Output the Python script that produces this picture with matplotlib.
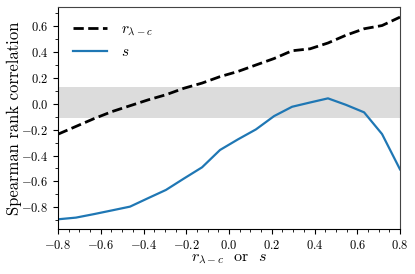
import matplotlib
matplotlib.use("Agg")
import matplotlib.pyplot as plt
from matplotlib.ticker import MultipleLocator

plt.rcParams['font.family'] = 'serif'
plt.rcParams['font.serif'] = ['cmr10', 'DejaVu Serif']
plt.rcParams['mathtext.fontset'] = 'cm'
plt.rcParams['axes.formatter.use_mathtext'] = True

x_vals = [-0.8, -0.716, -0.632, -0.547, -0.463, -0.379, -0.295, -0.211, -0.126, -0.042,
          0.042, 0.126, 0.211, 0.295, 0.379, 0.463, 0.547, 0.632, 0.716, 0.8]
r_corr = [-0.235, -0.175, -0.115, -0.06, -0.015, 0.03, 0.07, 0.12, 0.16, 0.21,
          0.25, 0.30, 0.35, 0.41, 0.425, 0.47, 0.53, 0.58, 0.605, 0.67]
s_corr = [-0.893, -0.880, -0.853, -0.824, -0.795, -0.73, -0.666, -0.578, -0.491, -0.357,
          -0.275, -0.198, -0.095, -0.023, 0.01, 0.042, -0.008, -0.066, -0.234, -0.507]
band = (-0.11, 0.13)

fig = plt.figure(figsize=(4.15, 2.74), dpi=100)
ax = fig.add_axes([58/415, 1-229/274, (400-58)/415, (229-7.3)/274])

ax.axhspan(band[0], band[1], color='#dcdcdc', lw=0, zorder=0)
ax.plot(x_vals, r_corr, color='black', ls='--', lw=2, label=r'$r_{\lambda-c}$')
ax.plot(x_vals, s_corr, color='#1f77b4', lw=1.6, label=r'$s$')

ax.set_xlim(-0.8, 0.8)
ax.set_ylim(-0.968, 0.746)
ax.xaxis.set_major_locator(MultipleLocator(0.2))
ax.xaxis.set_minor_locator(MultipleLocator(0.05))
ax.yaxis.set_major_locator(MultipleLocator(0.2))
ax.yaxis.set_minor_locator(MultipleLocator(0.1))
ax.tick_params(which='both', direction='out', top=False, right=False, labelsize=9)
ax.tick_params(which='major', length=3.5)
ax.tick_params(which='minor', length=2)
for sp in ['top', 'right']:
    ax.spines[sp].set_color('#444444')

ax.set_xlabel(r'$r_{\lambda-c}$  or  $s$', fontsize=11.5)
ax.set_ylabel('Spearman rank correlation', fontsize=12)
ax.yaxis.set_label_coords(-0.105, 0.5)
ax.xaxis.set_label_coords(0.5, -0.105)

ax.legend(loc='upper left', frameon=False, fontsize=11, handlelength=2.2,
          handletextpad=0.9, borderaxespad=0.6)

fig.savefig('out.png', dpi=100)
